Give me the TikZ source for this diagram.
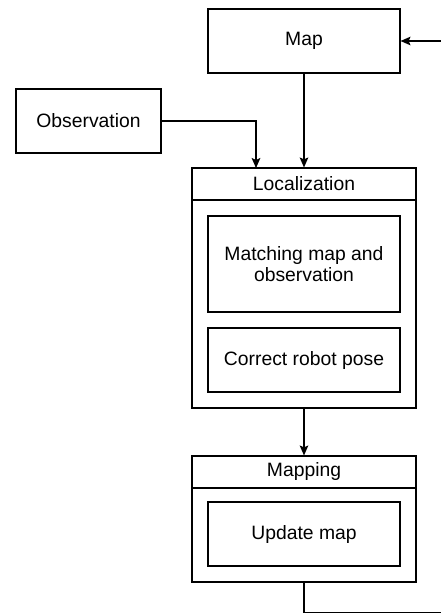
\documentclass[tikz,border=0pt]{standalone}
\usepackage{fontspec}
\setmainfont{Liberation Sans}
\usetikzlibrary{arrows.meta}

\tikzset{
  box/.style={draw, line width=0.85pt, minimum width=144pt, minimum height=48pt, inner sep=0pt, align=center},
  arr/.style={line width=0.85pt, -{Stealth[length=7.5pt, width=6.5pt, inset=1.5pt]}},
  every node/.style={font=\fontsize{14.5pt}{15.75pt}\selectfont}
}

\begin{document}
\begin{tikzpicture}[x=0.75pt,y=-0.75pt]
\useasboundingbox (0,0) rectangle (441,614);

% top boxes
\node[box] (map) at (304,41) {Map};
\node[box, minimum width=108.75pt] (obs) at (88.5,121) {Observation};

% localization
\node[box, minimum width=168pt, minimum height=180pt] (loc) at (304,288) {};
\draw[line width=0.85pt] (192,200) -- (416,200);
\node (loctitle) at (304,184) {Localization};
\node[box, minimum height=72pt] (match) at (304,264) {Matching map and\\observation};
\node[box] (pose) at (304,360) {Correct robot pose};

% mapping
\node[box, minimum width=168pt, minimum height=94.5pt] (mapping) at (304,519) {};
\draw[line width=0.85pt] (192,488) -- (416,488);
\node (maptitle) at (304,471) {Mapping};
\node[box] (update) at (304,534) {Update map};

\coordinate (locin) at (256,168);
\coordinate (loopr) at (450,612.5);

\draw[arr] (map.south) -- (loc.north);
\draw[arr] (obs.east) -| (locin);
\draw[arr] (loc.south) -- (mapping.north);
\draw[arr] (mapping.south) |- (loopr) |- (map.east);

\end{tikzpicture}
\end{document}
